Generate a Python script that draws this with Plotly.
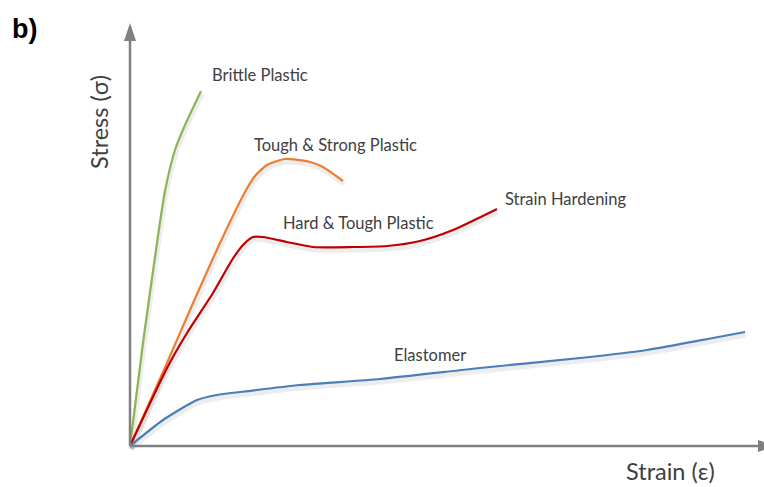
import plotly.graph_objects as go

# Strain / stress readings (pixel-scaled units, origin at axes corner)
brittle_x = [0, 13, 28, 35, 45, 55, 62, 71]
brittle_y = [0, 103, 210, 255, 296, 321, 336, 355]

tough_strong_x = [0, 33, 60, 90, 115, 125, 137, 155, 180, 193, 213]
tough_strong_y = [0, 74, 136, 203, 254, 270, 281, 287, 284, 279, 265]

hard_tough_x = [0, 37, 57, 83, 102, 113, 123, 133, 157, 183, 223, 257, 290, 323, 367]
hard_tough_y = [0, 78, 113, 153, 186, 201, 209, 209, 204, 199, 199, 200, 205, 216, 237]

elastomer_x = [0, 33, 67, 87, 110, 170, 250, 350, 450, 517, 583, 615]
elastomer_y = [0, 26, 46, 51, 54, 61, 67, 78, 88, 96, 108, 114]

labels = ["Brittle Plastic", "Tough & Strong Plastic", "Hard & Tough Plastic",
          "Strain Hardening", "Elastomer"]
label_x = [80, 122, 151, 373, 262]
label_y = [371, 301, 223, 247, 91]

series = [
    (brittle_x, brittle_y, "#8db554"),
    (tough_strong_x, tough_strong_y, "#ed7d31"),
    (hard_tough_x, hard_tough_y, "#c00000"),
    (elastomer_x, elastomer_y, "#4a7ebb"),
]

fig = go.Figure()
# soft drop shadows
for xs, ys, c in series:
    fig.add_trace(go.Scatter(x=[v + 1 for v in xs], y=[v - 3 for v in ys], mode="lines",
                             line=dict(color="rgba(0,0,0,0.07)", width=5, shape="spline", smoothing=0.6),
                             hoverinfo="skip", showlegend=False))
for xs, ys, c in series:
    fig.add_trace(go.Scatter(x=xs, y=ys, mode="lines",
                             line=dict(color=c, width=2.2, shape="spline", smoothing=0.6),
                             showlegend=False))

axis_col = "#808080"
shapes = [
    dict(type="line", x0=0, y0=0, x1=0, y1=408, line=dict(color=axis_col, width=2.5)),
    dict(type="path", path="M -6 405 L 0 423 L 6 405 Z", fillcolor=axis_col, line=dict(width=0)),
    dict(type="line", x0=0, y0=0, x1=630, y1=0, line=dict(color=axis_col, width=2.5)),
    dict(type="path", path="M 628 -6 L 646 0 L 628 6 Z", fillcolor=axis_col, line=dict(width=0)),
]

lab_font = dict(family="Lato", size=16.5, color="#404040")
annotations = []
for t, x, y in zip(labels, label_x, label_y):
    annotations.append(dict(x=x, y=y, text=t, showarrow=False, xanchor="left", yanchor="middle",
                            font=lab_font))
annotations += [
    dict(x=-31, y=324, text="Stress (σ)", textangle=-90, showarrow=False,
         font=dict(family="Lato", size=23.5, color="#404040")),
    dict(x=540, y=-25, text="Strain (ε)", showarrow=False,
         font=dict(family="Lato", size=23.5, color="#404040")),
    dict(x=-106, y=417, text="<b>b)</b>", showarrow=False,
         font=dict(family="Liberation Sans", size=27, color="#000000")),
]

fig.update_layout(
    width=764, height=487, margin=dict(l=0, r=0, t=0, b=0),
    paper_bgcolor="white", plot_bgcolor="white",
    xaxis=dict(range=[-130, 634], visible=False, fixedrange=True),
    yaxis=dict(range=[-41, 446], visible=False, fixedrange=True),
    shapes=shapes, annotations=annotations,
)
fig.write_html("out.html", config={"displayModeBar": False},
               post_script="document.body.style.margin='0';document.body.style.overflow='hidden';")
